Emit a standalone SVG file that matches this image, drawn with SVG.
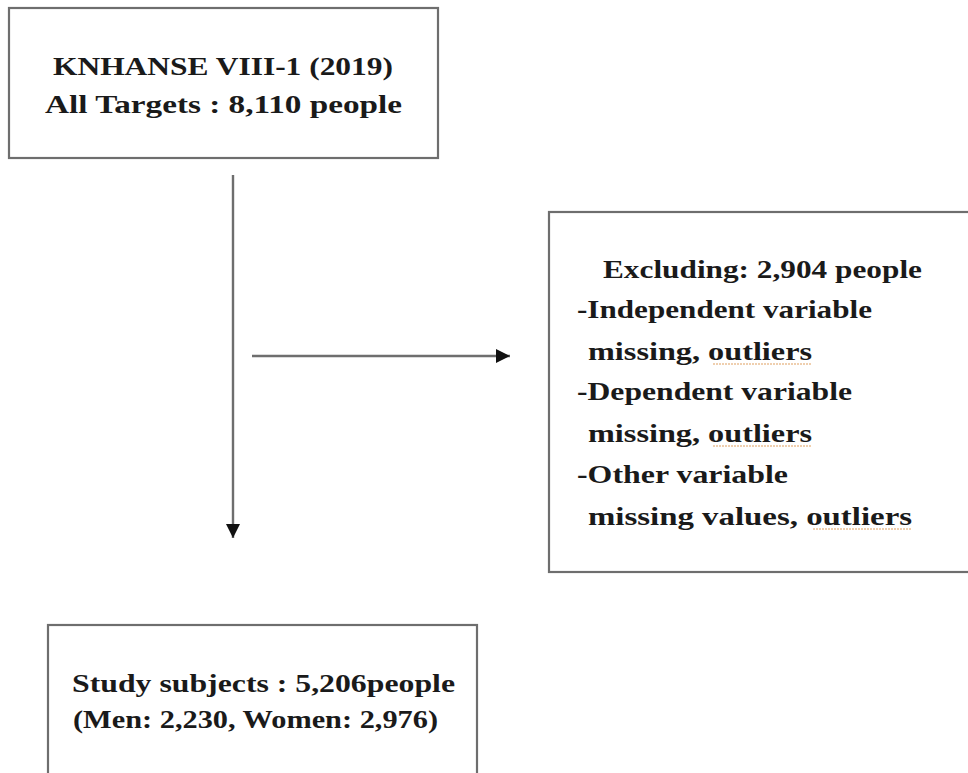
<svg xmlns="http://www.w3.org/2000/svg" width="968" height="773" viewBox="0 0 968 773">
<style>
.box{fill:#fff;stroke:#6e6e6e;stroke-width:2.2}
.t{font-family:"Liberation Serif","DejaVu Serif",serif;font-size:25px;font-weight:bold;fill:#1a1a1a}
.c{stroke:#6e6e6e;stroke-width:2.4;fill:none}
.sp{stroke:#e0a060;stroke-width:1.2;stroke-dasharray:2 1;fill:none}
</style>
<defs>
<marker id="ah" viewBox="0 0 10 10" refX="10" refY="5" markerWidth="6" markerHeight="6" markerUnits="strokeWidth" orient="auto">
<path d="M0,0 L10,5 L0,10 z" fill="#111"/>
</marker>
</defs>
<rect width="968" height="773" fill="#fff"/>
<g id="node-all">
<rect class="box" x="9" y="8" width="429" height="150"/>
<text class="t" x="53" y="75" textLength="340" lengthAdjust="spacingAndGlyphs">KNHANSE VIII-1 (2019)</text>
<text class="t" x="45" y="113" textLength="357" lengthAdjust="spacingAndGlyphs">All Targets : 8,110 people</text>
</g>
<g id="node-excluded">
<rect class="box" x="549" y="212" width="430" height="360"/>
<text class="t" x="603" y="278" textLength="319" lengthAdjust="spacingAndGlyphs">Excluding: 2,904 people</text>
<text class="t" x="577" y="318" textLength="295" lengthAdjust="spacingAndGlyphs">-Independent variable</text>
<text class="t" x="588" y="360" textLength="224" lengthAdjust="spacingAndGlyphs">missing, outliers</text>
<text class="t" x="577" y="400" textLength="275" lengthAdjust="spacingAndGlyphs">-Dependent variable</text>
<text class="t" x="588" y="442" textLength="224" lengthAdjust="spacingAndGlyphs">missing, outliers</text>
<text class="t" x="577" y="483" textLength="211" lengthAdjust="spacingAndGlyphs">-Other variable</text>
<text class="t" x="588" y="525" textLength="324" lengthAdjust="spacingAndGlyphs">missing values, outliers</text>
<path class="sp" d="M713,364 H812 M713,446 H812 M813,529 H912"/>
</g>
<g id="node-study">
<rect class="box" x="48" y="625" width="429" height="160"/>
<text class="t" x="72" y="692" textLength="383" lengthAdjust="spacingAndGlyphs">Study subjects : 5,206people</text>
<text class="t" x="73" y="728" textLength="365" lengthAdjust="spacingAndGlyphs">(Men: 2,230, Women: 2,976)</text>
</g>
<g id="connectors">
<line class="c" x1="233" y1="175" x2="233" y2="538" marker-end="url(#ah)"/>
<line class="c" x1="252" y1="356" x2="510" y2="356" marker-end="url(#ah)"/>
</g>
</svg>
